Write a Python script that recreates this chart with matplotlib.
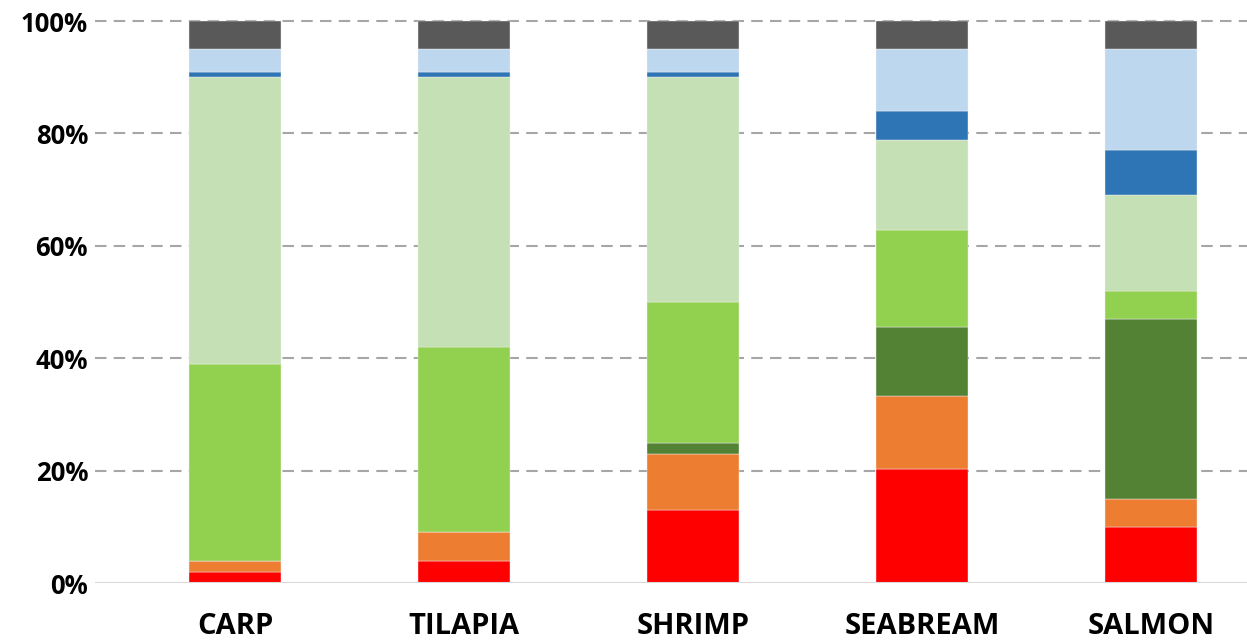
import matplotlib
matplotlib.use("Agg")
import matplotlib.pyplot as plt
import numpy as np

categories = ["CARP", "TILAPIA", "SHRIMP", "SEABREAM", "SALMON"]

# Share of each component per species (%), stacked bottom to top
red         = [2.0, 4.0, 13.0, 20.3, 10.0]
orange      = [2.0, 5.0, 10.0, 13.0, 5.0]
dark_green  = [0.0, 0.0, 2.0, 12.2, 32.0]
green       = [35.0, 33.0, 25.0, 17.4, 5.0]
light_green = [51.0, 48.0, 40.0, 15.9, 17.0]
blue        = [1.0, 1.0, 1.0, 5.2, 8.0]
light_blue  = [4.0, 4.0, 4.0, 11.0, 18.0]
grey        = [5.0, 5.0, 5.0, 5.0, 5.0]

series = [red, orange, dark_green, green, light_green, blue, light_blue, grey]
colors = ["#FF0000", "#ED7D31", "#548235", "#92D050", "#C5E0B4",
          "#2E75B6", "#BDD7EE", "#595959"]

tick_values = [0, 20, 40, 60, 80, 100]
tick_labels = ["0%", "20%", "40%", "60%", "80%", "100%"]

W, H = 1247, 643
fig = plt.figure(figsize=(W / 100, H / 100), dpi=100)
px_per_pct = (583 - 21) / 100.0
top_px = 12
ax = fig.add_axes([95 / W, (H - 583) / H, 1 - 95 / W, (583 - top_px) / H])

x = np.arange(len(categories))
bottom = np.zeros(len(categories))
for vals, col in zip(series, colors):
    v = np.array(vals)
    ax.bar(x, v, bottom=bottom, width=0.4, color=col, edgecolor="#F2F2F2",
           linewidth=0.3, zorder=3)
    bottom += v

ax.set_ylim(0, 100 + (21 - top_px) / px_per_pct)
ax.set_xlim(-(235 - 95) / 229.0, 4 + (1247 - 1151) / 229.0)

for t in tick_values[1:]:
    ax.axhline(t, color="#A6A6A6", linewidth=1.5, linestyle=(0, (5.5, 3.5)), zorder=1)
ax.axhline(0, color="#D9D9D9", linewidth=1.5, zorder=4)

ax.set_yticks(tick_values)
ax.set_yticklabels(tick_labels)
ax.set_xticks(x)
ax.set_xticklabels(categories)

for lab in ax.get_yticklabels():
    lab.set_fontfamily("Open Sans")
    lab.set_fontweight("bold")
    lab.set_fontsize(18.5)
for lab in ax.get_xticklabels():
    lab.set_fontfamily("Open Sans")
    lab.set_fontweight("bold")
    lab.set_fontsize(21)

ax.tick_params(axis="y", length=0, pad=5)
ax.tick_params(axis="x", length=0, pad=21)
for s in ax.spines.values():
    s.set_visible(False)

fig.savefig("out.png", dpi=100)
